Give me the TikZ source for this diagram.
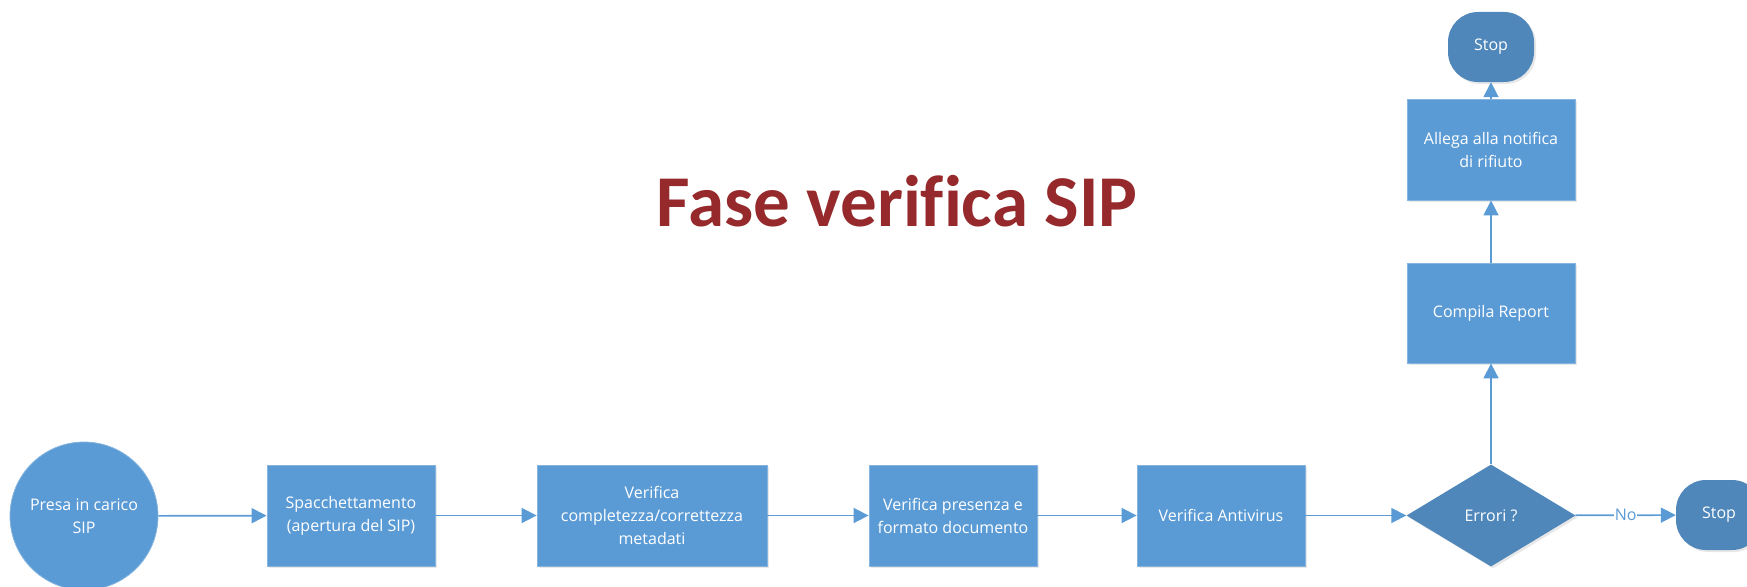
\documentclass[tikz,border=0pt]{standalone}
\usepackage{fontspec}
\setmainfont[Ligatures=NoCommon]{Open Sans}
\newfontfamily\titlefont[Ligatures=NoCommon]{Carlito}
\usetikzlibrary{arrows.meta,shapes.geometric,shadows}
\definecolor{boxblue}{RGB}{91,155,213}
\definecolor{darkblue}{RGB}{79,135,187}
\definecolor{edgeblue}{RGB}{135,180,222}
\definecolor{titlered}{RGB}{149,41,43}
\tikzset{
  shd/.style={drop shadow={opacity=0.18,shadow xshift=2pt,shadow yshift=-2pt}},
  procbox/.style={rectangle,fill=boxblue,draw=edgeblue,line width=0.8pt,shd,
    text=white,align=center,inner sep=2pt,font=\fontsize{16}{23}\selectfont},
  startcirc/.style={circle,fill=boxblue,draw=edgeblue,line width=0.8pt,minimum size=148pt,
    text=white,align=center,inner sep=0pt,font=\fontsize{16}{23}\selectfont},
  decis/.style={diamond,fill=darkblue,draw=none,shd,text=white,inner sep=0pt,
    minimum width=169pt,minimum height=102pt,font=\fontsize{16}{23}\selectfont},
  term/.style={rectangle,rounded corners=30pt,fill=darkblue,draw=none,shd,text=white,
    minimum width=86pt,minimum height=70pt,inner sep=0pt,font=\fontsize{16}{23}\selectfont},
  arr/.style={draw=boxblue,line width=1.7pt,-{Triangle[length=15pt,width=15pt]}},
  nolabel/.style={fill=white,text=boxblue,inner sep=1pt,font=\fontsize{16}{20}\selectfont}
}
\begin{document}
\begin{tikzpicture}[x=1pt,y=-1pt]
\useasboundingbox (0,0) rectangle (1747,586);
\clip (0,0) rectangle (1747,586);
\node[anchor=base,text=titlered,font=\titlefont\bfseries\fontsize{73}{80}\selectfont] (title) at (897,226) {Fase verifica SIP};
\node[startcirc] (n0) at (84,516) {Presa in carico\\SIP};
\node[procbox,minimum width=168pt,minimum height=101pt] (n1) at (351,515.5) {Spacchettamento\\(apertura del SIP)};
\node[procbox,minimum width=230pt,minimum height=101pt] (n2) at (652,515.5) {Verifica\\completezza/correttezza\\metadati};
\node[procbox,minimum width=168pt,minimum height=101pt] (n3) at (953,515.5) {Verifica presenza e\\formato documento};
\node[procbox,minimum width=168pt,minimum height=101pt] (n4) at (1221,515.5) {Verifica Antivirus};
\node[decis] (dia) at (1491,515.5) {Errori ?};
\node[term] (stopR) at (1719,515) {Stop};
\node[procbox,minimum width=168pt,minimum height=100pt] (comp) at (1491,313) {Compila Report};
\node[procbox,minimum width=168pt,minimum height=101pt] (alle) at (1491,149.5) {Allega alla notifica\\di rifiuto};
\node[term] (stopT) at (1491,47) {Stop};
\draw[arr] (n0) -- (n1);
\draw[arr] (n1) -- (n2);
\draw[arr] (n2) -- (n3);
\draw[arr] (n3) -- (n4);
\draw[arr] (n4) -- (dia);
\draw[arr] (dia) -- node[nolabel] {No} (stopR);
\draw[arr] (dia) -- (comp);
\draw[arr] (comp) -- (alle);
\draw[arr] (alle) -- (stopT);
\end{tikzpicture}
\end{document}
